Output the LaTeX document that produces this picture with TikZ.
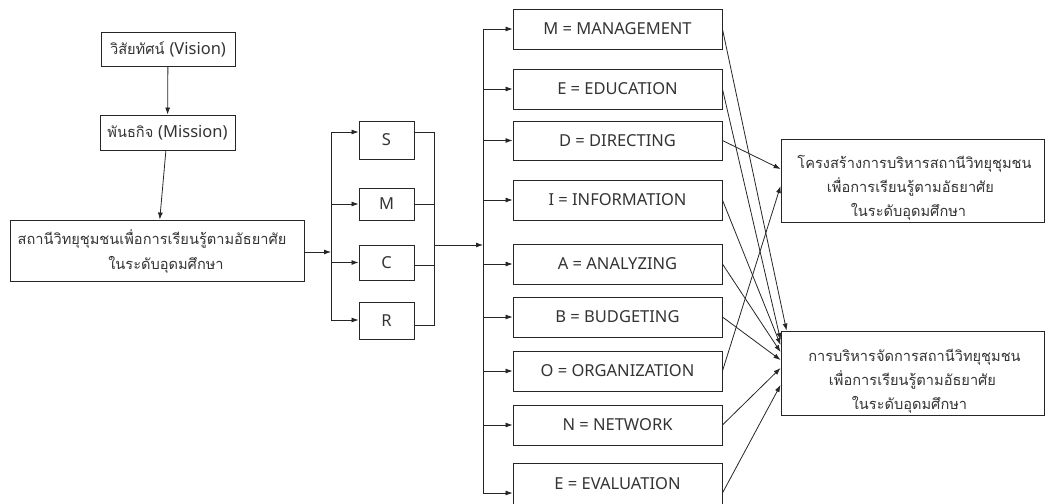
\documentclass[tikz,border=0pt]{standalone}
\usepackage{fontspec}
\setmainfont{Noto Sans}
\newfontfamily\thai[Script=Thai]{Loma}
\usetikzlibrary{arrows.meta,calc}
\newcommand{\lat}[1]{{\fontspec{Noto Sans}\fontsize{16.5}{18}\selectfont #1}}
\newcommand{\tlines}[2]{\raisebox{#1}[0pt][0pt]{\begin{tabular}{@{}c@{}}#2\end{tabular}}}
\begin{document}
\begin{tikzpicture}[x=1pt,y=-1pt,
  box/.style={draw=black!85, line width=0.9pt, inner sep=0pt, align=center, text=black!80, font=\fontsize{16.5}{18}\selectfont},
  tbox/.style={box, font=\thai\fontsize{14.6}{20}\selectfont},
  arr/.style={draw=black!85, -{Latex[length=7pt,width=5pt]}, line width=0.8pt},
  ln/.style={draw=black!85, line width=0.8pt}]
\useasboundingbox (0,0) rectangle (1046,503);
% left column
\node[tbox, minimum width=134, minimum height=34] (vis) at (168,49) {วิสัยทัศน์ \lat{(Vision)}};
\node[tbox, minimum width=135, minimum height=35] (mis) at (167.5,132.5) {พันธกิจ \lat{(Mission)}};
\node[tbox, minimum width=294, minimum height=61] (sta) at (157,250.5)
  {\renewcommand{\arraystretch}{1.25}\tlines{-5pt}{สถานีวิทยุชุมชนเพื่อการเรียนรู้ตามอัธยาศัย\hspace*{10pt}\\\hspace*{18pt}ในระดับอุดมศึกษา}};
% SMCR
\node[box, minimum width=55, minimum height=38] (S) at (386.5,140) {S};
\node[box, minimum width=55, minimum height=32] (M) at (386.5,204) {M};
\node[box, minimum width=55, minimum height=35] (C) at (386.5,262.5) {C};
\node[box, minimum width=55, minimum height=37] (R) at (386.5,320.5) {R};
% middle column
\node[box, minimum width=209, minimum height=40] (b1) at (617.5,29) {M = MANAGEMENT};
\node[box, minimum width=209, minimum height=40] (b2) at (617.5,89) {E = EDUCATION};
\node[box, minimum width=209, minimum height=39] (b3) at (617.5,140.5) {D = DIRECTING};
\node[box, minimum width=209, minimum height=40] (b4) at (617.5,200) {I = INFORMATION};
\node[box, minimum width=209, minimum height=40] (b5) at (617.5,264) {A = ANALYZING};
\node[box, minimum width=209, minimum height=40] (b6) at (617.5,317) {B = BUDGETING};
\node[box, minimum width=209, minimum height=40] (b7) at (617.5,371) {O = ORGANIZATION};
\node[box, minimum width=209, minimum height=40] (b8) at (617.5,425) {N = NETWORK};
\node[box, minimum width=209, minimum height=42] (b9) at (617.5,484) {E = EVALUATION};
% right column
\node[tbox, minimum width=263, minimum height=83] (top) at (912.5,180.5)
  {\renewcommand{\arraystretch}{1.2}\tlines{-11pt}{โครงสร้างการบริหารสถานีวิทยุชุมชน\hspace*{-4pt}\\เพื่อการเรียนรู้ตามอัธยาศัย\hspace*{4pt}\\ในระดับอุดมศึกษา\hspace*{8pt}}};
\node[tbox, minimum width=263, minimum height=84] (bot) at (912.5,373)
  {\renewcommand{\arraystretch}{1.2}\tlines{-11pt}{การบริหารจัดการสถานีวิทยุชุมชน\hspace*{-4pt}\\เพื่อการเรียนรู้ตามอัธยาศัย\\ในระดับอุดมศึกษา\hspace*{6pt}}};
% connectors left
\draw[arr] (vis) -- (mis);
\draw[arr] (mis) -- (sta);
\coordinate (lv) at (331,252);
\draw[arr] (sta.east |- lv) -- (lv);
\draw[ln] (lv |- 0,132) -- (lv |- 0,320);
\draw[arr] (lv |- 0,132) -- (S.west |- 0,132);
\draw[arr] (lv |- M.west) -- (M.west);
\draw[arr] (lv |- C.west) -- (C.west);
\draw[arr] (lv |- 0,320) -- (R.west |- 0,320);
\coordinate (rv) at (434,245);
\draw[ln] (S.east |- 0,132) -- (rv |- 0,132) -- (rv |- 0,325) -- (R.east |- 0,325);
\draw[ln] (M.east) -- (rv |- M.east);
\draw[ln] (C.east |- 0,265) -- (rv |- 0,265);
\coordinate (bv) at (483,245);
\draw[arr] (rv) -- (bv);
\draw[ln] (bv |- 0,29) -- (bv |- 0,493);
\foreach \b in {b1,b2,b3,b4,b5,b6,b7,b8}
  \draw[arr] (bv |- \b.west) -- (\b.west);
\draw[arr] (bv |- 0,493) -- (b9.west |- 0,493);
% connectors right
\draw[arr] (b3.east) -- (top.west |- 0,169);
\draw[arr] (b7.east) -- (top.west |- 0,186);
\draw[arr] (b1.east) -- ($(bot.north west)+(6,0)$);
\draw[arr] (b2.east) -- (bot.west |- 0,340);
\draw[arr] (b4.east) -- (bot.west |- 0,345);
\draw[arr] (b5.east) -- (bot.west |- 0,352);
\draw[arr] (b6.east) -- (bot.west |- 0,360);
\draw[arr] (b8.east) -- (bot.west |- 0,368);
\draw[arr] (b9.east |- 0,493) -- (bot.west |- 0,385);
\end{tikzpicture}
\end{document}
